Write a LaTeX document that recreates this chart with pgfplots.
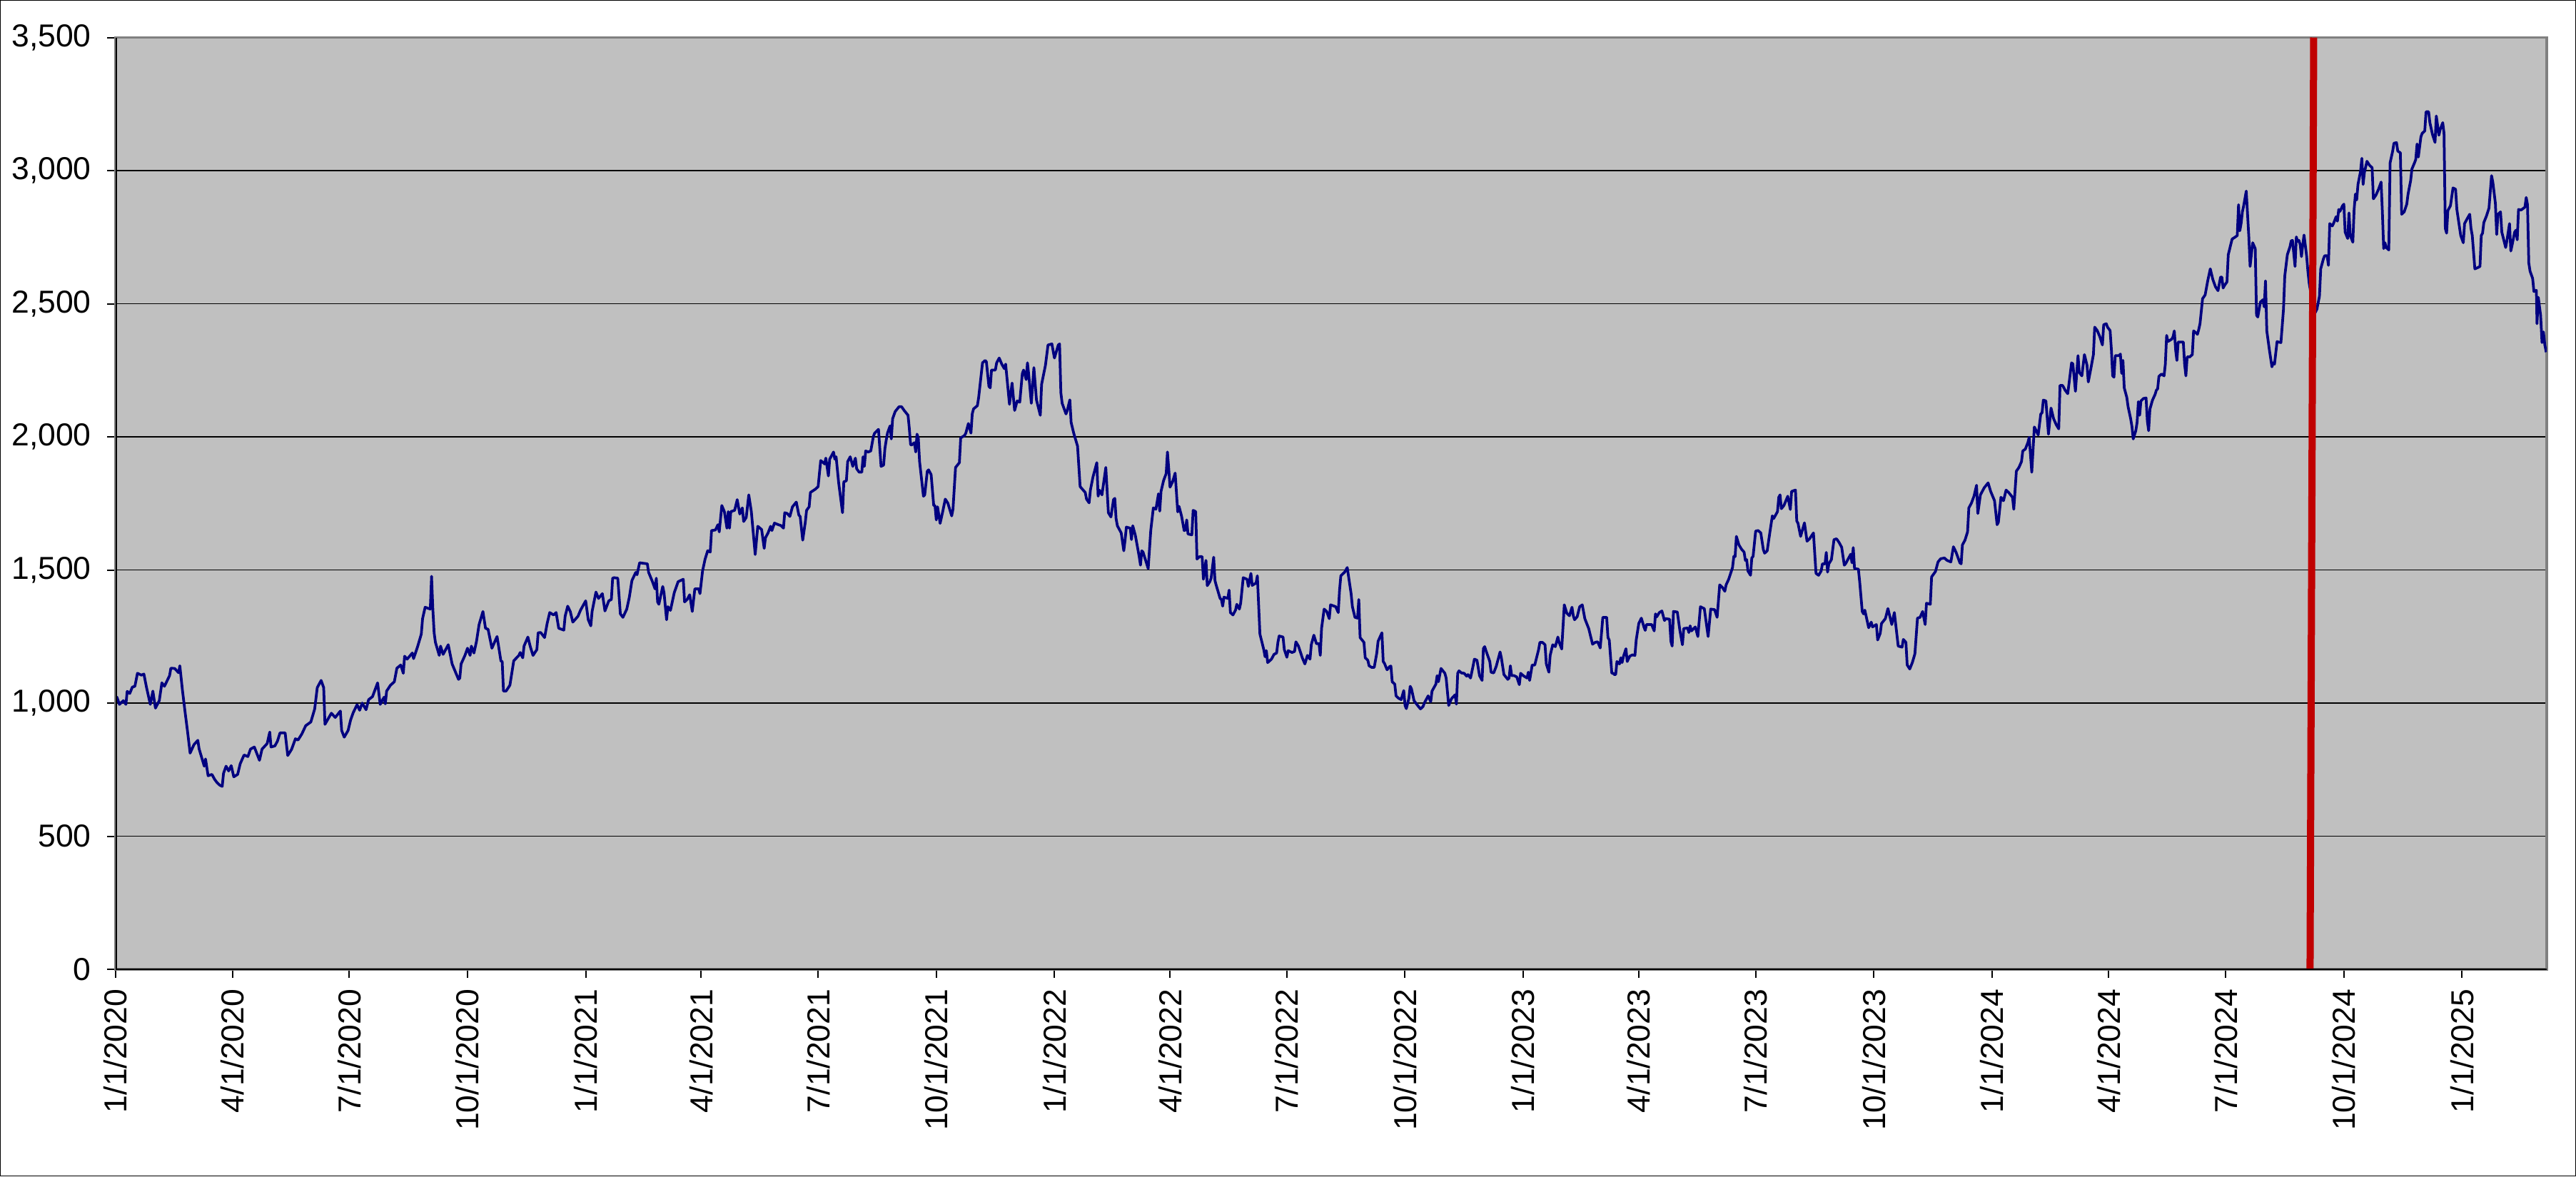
\documentclass[border=0pt]{standalone}
\usepackage{fontspec}
\setmainfont{Liberation Sans}
\usepackage{pgfplots}
\usepackage{pgfplotstable}
\pgfplotsset{compat=1.18}
\definecolor{navyline}{HTML}{000080}
\definecolor{redline}{HTML}{C00000}
\definecolor{plotbg}{HTML}{C0C0C0}
\definecolor{frameg}{HTML}{808080}
\pgfplotstableread{
d v
0 1020
1 1022
3 995
6 1009
8 995
9 1044
11 1036
13 1060
15 1063
17 1112
20 1105
22 1109
24 1060
27 995
29 1045
31 981
34 1009
36 1076
38 1063
42 1103
43 1131
46 1130
49 1114
50 1140
52 1049
54 969
56 893
58 812
61 844
64 860
65 828
69 763
70 790
72 727
75 732
77 714
79 701
81 692
83 687
84 736
86 763
88 745
90 765
92 723
95 732
97 772
100 805
103 799
105 827
108 835
112 785
114 827
118 848
120 891
121 835
124 839
126 857
128 888
132 888
134 803
137 826
140 866
142 861
145 884
148 915
152 929
155 978
157 1058
160 1085
162 1058
163 920
165 937
168 962
171 946
175 970
176 897
178 872
181 897
183 937
185 964
188 994
190 973
192 1000
195 975
197 1013
200 1024
204 1076
206 995
209 1022
210 997
211 1045
214 1067
217 1080
219 1131
222 1143
224 1112
225 1176
227 1165
231 1188
232 1167
235 1210
238 1259
239 1317
241 1360
245 1353
246 1476
247 1353
248 1264
249 1228
252 1179
253 1214
255 1183
259 1219
262 1147
265 1112
267 1089
268 1094
269 1147
272 1179
274 1206
276 1179
277 1214
279 1188
281 1232
283 1295
286 1344
288 1281
290 1277
293 1206
297 1250
300 1158
301 1156
302 1045
304 1045
307 1067
310 1159
314 1179
315 1190
317 1170
318 1214
321 1248
323 1210
325 1179
328 1201
329 1264
331 1265
334 1246
336 1299
338 1340
341 1331
343 1340
345 1281
349 1274
350 1326
352 1364
354 1344
356 1304
360 1326
362 1349
366 1384
368 1313
370 1290
371 1344
374 1417
376 1393
379 1411
381 1346
384 1384
386 1389
387 1469
388 1471
391 1469
393 1335
395 1322
398 1353
400 1398
402 1460
405 1491
406 1482
408 1527
414 1523
415 1491
418 1456
420 1429
421 1469
422 1380
423 1371
426 1438
427 1415
429 1313
430 1362
432 1348
435 1415
438 1456
442 1465
443 1380
445 1389
447 1407
449 1344
451 1429
454 1429
455 1411
457 1496
459 1541
461 1572
463 1567
464 1648
467 1650
469 1670
470 1643
472 1742
474 1719
476 1657
477 1719
478 1657
479 1719
482 1724
484 1764
486 1710
487 1724
488 1733
489 1682
491 1697
493 1782
495 1719
498 1558
500 1664
503 1652
505 1581
506 1621
508 1639
510 1664
511 1648
513 1676
516 1670
518 1667
520 1657
521 1715
523 1712
525 1701
527 1737
530 1755
532 1706
533 1701
535 1612
537 1679
538 1724
540 1737
541 1791
545 1804
547 1813
549 1911
551 1903
552 1898
553 1920
555 1853
556 1916
559 1943
560 1916
561 1925
563 1827
566 1715
567 1831
569 1835
570 1907
572 1925
574 1889
576 1920
577 1880
579 1867
581 1867
582 1925
583 1889
584 1947
586 1943
588 1947
590 2001
591 2014
594 2028
596 1889
598 1894
599 1956
600 1987
601 2014
603 2041
604 1992
605 2068
607 2095
610 2113
612 2113
614 2099
617 2081
618 2032
619 1970
620 1970
622 1978
623 1943
624 2010
625 1996
626 1907
629 1777
630 1782
632 1871
633 1876
635 1858
637 1742
638 1742
639 1688
640 1737
642 1675
644 1719
646 1766
648 1751
651 1703
652 1728
654 1885
657 1903
658 1996
661 2005
662 2014
664 2050
666 2014
667 2086
668 2105
671 2117
672 2148
675 2278
677 2287
678 2282
680 2189
681 2184
682 2251
685 2251
686 2278
688 2296
690 2273
692 2256
693 2273
696 2122
698 2202
700 2099
702 2135
704 2130
706 2238
707 2251
709 2215
710 2278
711 2233
713 2126
715 2260
717 2139
720 2081
721 2197
724 2269
726 2345
729 2349
731 2296
734 2345
735 2349
736 2166
737 2126
740 2086
741 2099
743 2139
744 2054
746 2014
749 1965
751 1813
755 1791
756 1766
758 1752
759 1800
761 1849
764 1903
765 1777
766 1800
768 1782
771 1885
773 1715
775 1699
777 1764
778 1769
779 1693
780 1666
783 1639
785 1572
786 1612
787 1661
790 1657
791 1614
792 1666
794 1630
797 1550
798 1518
799 1572
800 1567
802 1536
804 1505
806 1648
808 1733
810 1728
812 1786
813 1721
814 1795
816 1836
818 1862
819 1943
820 1880
821 1811
823 1831
825 1864
827 1718
828 1739
830 1702
832 1648
833 1650
834 1688
835 1635
838 1632
839 1724
841 1719
842 1541
844 1550
846 1550
847 1465
849 1536
850 1441
852 1456
853 1469
855 1548
856 1460
857 1442
860 1393
861 1389
862 1364
863 1398
866 1393
867 1424
868 1340
870 1331
872 1349
873 1371
875 1353
876 1375
878 1471
881 1465
882 1438
884 1487
885 1442
888 1451
889 1478
891 1259
894 1201
895 1174
896 1197
897 1152
900 1165
902 1183
904 1188
905 1228
906 1252
909 1248
910 1201
912 1172
913 1197
916 1190
918 1194
919 1230
921 1214
924 1170
926 1147
928 1179
930 1165
931 1219
933 1255
935 1223
937 1223
938 1179
939 1281
941 1353
943 1344
945 1317
946 1369
950 1362
952 1340
953 1424
954 1478
957 1492
959 1509
960 1476
962 1411
963 1362
965 1322
967 1319
968 1389
969 1246
972 1228
973 1170
975 1161
976 1140
978 1134
980 1134
982 1188
983 1232
986 1264
987 1156
988 1149
990 1125
992 1137
993 1139
994 1080
996 1071
997 1027
999 1018
1001 1013
1003 1047
1004 991
1005 979
1007 1018
1008 1063
1009 1054
1011 1009
1013 996
1016 978
1018 987
1019 1000
1021 1018
1022 1027
1024 1005
1025 1045
1028 1071
1029 1103
1030 1080
1032 1130
1035 1112
1036 1094
1038 991
1040 1015
1041 1021
1043 1031
1044 996
1045 1112
1046 1121
1048 1113
1050 1112
1052 1101
1053 1107
1055 1094
1057 1140
1058 1165
1060 1161
1062 1103
1064 1085
1065 1205
1066 1212
1067 1197
1070 1156
1071 1116
1073 1113
1075 1138
1077 1174
1078 1192
1079 1170
1081 1107
1084 1089
1085 1094
1086 1140
1087 1103
1089 1103
1091 1098
1093 1069
1094 1112
1096 1103
1099 1094
1100 1116
1101 1085
1103 1143
1105 1143
1108 1201
1109 1228
1111 1228
1113 1219
1114 1147
1116 1116
1117 1179
1119 1219
1121 1212
1123 1248
1124 1228
1126 1203
1128 1369
1130 1337
1132 1328
1134 1360
1135 1328
1136 1313
1138 1324
1140 1362
1142 1369
1144 1317
1147 1280
1149 1241
1150 1221
1152 1228
1154 1230
1156 1207
1158 1322
1161 1322
1162 1246
1163 1237
1165 1112
1166 1112
1167 1107
1168 1107
1169 1156
1171 1147
1172 1170
1173 1152
1174 1174
1176 1204
1177 1156
1179 1176
1181 1181
1183 1179
1184 1237
1186 1299
1188 1319
1190 1286
1191 1273
1192 1295
1196 1295
1198 1271
1199 1335
1200 1324
1202 1340
1204 1346
1206 1310
1207 1317
1210 1315
1211 1232
1212 1214
1213 1344
1216 1342
1218 1273
1220 1219
1221 1280
1224 1282
1225 1265
1226 1290
1227 1271
1230 1286
1232 1250
1234 1362
1236 1357
1237 1355
1240 1250
1242 1353
1245 1351
1247 1322
1249 1444
1251 1435
1253 1420
1254 1444
1256 1465
1259 1509
1260 1551
1261 1550
1262 1626
1264 1594
1266 1578
1268 1567
1269 1536
1270 1539
1271 1496
1273 1480
1274 1545
1275 1551
1277 1646
1279 1648
1281 1639
1283 1576
1284 1563
1286 1572
1288 1639
1290 1703
1291 1693
1294 1719
1295 1773
1296 1782
1297 1730
1299 1742
1302 1777
1304 1727
1305 1795
1308 1800
1309 1684
1310 1675
1312 1626
1315 1677
1317 1608
1319 1617
1322 1639
1324 1487
1326 1480
1328 1496
1329 1523
1331 1523
1332 1566
1333 1492
1334 1523
1336 1539
1338 1614
1340 1617
1342 1603
1344 1585
1346 1518
1347 1523
1349 1541
1351 1559
1352 1527
1353 1584
1354 1505
1357 1503
1358 1456
1360 1344
1361 1335
1362 1349
1365 1283
1367 1304
1368 1286
1371 1295
1372 1237
1374 1262
1375 1299
1378 1317
1380 1355
1381 1335
1383 1295
1385 1340
1388 1214
1391 1210
1392 1239
1394 1228
1395 1143
1397 1128
1399 1152
1401 1185
1403 1319
1405 1322
1407 1344
1409 1295
1410 1375
1413 1371
1414 1474
1417 1494
1419 1530
1421 1542
1424 1545
1426 1536
1429 1530
1431 1587
1433 1567
1436 1527
1437 1523
1438 1594
1440 1612
1442 1643
1443 1733
1445 1751
1447 1777
1449 1818
1450 1712
1452 1782
1455 1809
1458 1827
1460 1795
1463 1760
1465 1670
1466 1679
1468 1773
1470 1760
1472 1800
1474 1791
1477 1773
1478 1728
1480 1871
1482 1885
1484 1907
1485 1947
1487 1954
1489 1979
1490 1998
1492 1867
1494 2037
1495 2028
1497 2007
1499 2086
1500 2090
1501 2138
1503 2135
1505 2010
1507 2108
1509 2068
1511 2046
1513 2030
1514 2193
1516 2193
1518 2175
1520 2162
1523 2278
1524 2274
1526 2171
1528 2305
1529 2242
1531 2229
1533 2309
1535 2269
1536 2206
1538 2256
1540 2309
1541 2412
1543 2399
1545 2376
1547 2345
1548 2421
1550 2425
1551 2412
1553 2399
1554 2327
1555 2229
1556 2224
1557 2305
1560 2305
1561 2311
1562 2238
1563 2287
1564 2184
1566 2148
1567 2113
1569 2068
1570 2039
1571 1992
1573 2023
1574 2054
1575 2132
1576 2081
1577 2135
1579 2144
1581 2146
1582 2059
1583 2023
1584 2104
1586 2138
1588 2159
1589 2175
1590 2180
1591 2227
1593 2236
1595 2229
1596 2273
1597 2381
1598 2358
1601 2367
1602 2376
1603 2398
1604 2327
1605 2287
1606 2356
1609 2356
1610 2356
1611 2273
1612 2229
1613 2300
1615 2300
1617 2309
1618 2398
1620 2390
1621 2385
1622 2403
1623 2425
1625 2519
1627 2533
1629 2586
1631 2631
1633 2591
1635 2564
1637 2549
1639 2600
1640 2600
1641 2559
1642 2568
1644 2582
1645 2684
1648 2743
1650 2749
1652 2756
1653 2872
1654 2774
1655 2801
1656 2845
1657 2868
1659 2923
1661 2752
1662 2640
1664 2729
1666 2707
1667 2457
1668 2450
1670 2506
1672 2515
1673 2488
1674 2586
1675 2398
1677 2327
1679 2263
1680 2278
1681 2273
1683 2358
1684 2356
1686 2354
1688 2479
1689 2604
1691 2684
1693 2713
1694 2736
1695 2738
1697 2640
1698 2751
1699 2734
1700 2738
1701 2722
1702 2677
1703 2722
1704 2758
1706 2680
1707 2622
1708 2577
1710 2520
1712 2460
1714 2479
1716 2528
1717 2631
1719 2667
1720 2680
1722 2680
1723 2644
1724 2801
1726 2792
1727 2802
1729 2827
1730 2810
1731 2854
1732 2847
1734 2868
1735 2874
1736 2769
1738 2745
1739 2841
1740 2756
1742 2731
1743 2854
1744 2912
1745 2890
1746 2948
1748 2997
1749 3046
1750 2948
1751 2993
1753 3035
1755 3020
1757 3011
1758 2894
1760 2908
1762 2930
1764 2957
1765 2845
1766 2707
1767 2729
1768 2711
1770 2702
1771 3029
1773 3073
1774 3103
1776 3105
1777 3073
1779 3067
1780 2836
1782 2845
1784 2874
1785 2912
1787 2962
1788 3006
1790 3029
1791 3042
1792 3100
1793 3051
1795 3127
1796 3140
1798 3149
1799 3221
1801 3221
1802 3180
1804 3136
1806 3106
1807 3205
1809 3133
1810 3154
1812 3180
1813 3140
1814 2783
1815 2765
1816 2850
1818 2868
1820 2935
1822 2930
1823 2854
1826 2756
1828 2729
1829 2801
1831 2819
1833 2836
1834 2783
1835 2756
1837 2631
1839 2635
1841 2640
1842 2756
1843 2765
1844 2805
1846 2829
1848 2859
1850 2981
1851 2957
1853 2877
1854 2760
1855 2836
1857 2845
1858 2769
1861 2711
1862 2738
1864 2801
1865 2698
1866 2720
1868 2769
1869 2776
1870 2740
1871 2854
1873 2852
1875 2859
1876 2863
1877 2899
1878 2872
1879 2653
1880 2622
1882 2595
1883 2546
1884.9 2550
1885.4 2425
1886.4 2524
1888.2 2457
1889.3 2354
1890.4 2394
1891.5 2345
1892.6 2318
}\mydata
\begin{document}
\fontsize{8.9}{10.7}\selectfont
\begin{tikzpicture}
\useasboundingbox (0,0) rectangle (721.8pt,329.6pt);
\draw[black, line width=0.3pt] (0.15pt,0.15pt) rectangle (721.65pt,329.45pt);
\begin{axis}[
  at={(32.4pt,58pt)}, anchor=south west,
  scale only axis, width=681.2pt, height=261.1pt,
  xmin=0, xmax=1893, ymin=0, ymax=3500,
  axis background/.style={fill=plotbg},
  axis line style={draw=frameg, line width=0.7pt},
  ymajorgrids, grid style={black, line width=0.25pt},
  ytick={0,500,1000,1500,2000,2500,3000,3500},
  xtick={0,91,182,274,366,456,547,639,731,821,912,1004,1096,1186,1277,1369,1461,1552,1643,1735,1827},
  xticklabels={1/1/2020,4/1/2020,7/1/2020,10/1/2020,1/1/2021,4/1/2021,7/1/2021,10/1/2021,1/1/2022,4/1/2022,7/1/2022,10/1/2022,1/1/2023,4/1/2023,7/1/2023,10/1/2023,1/1/2024,4/1/2024,7/1/2024,10/1/2024,1/1/2025},
  tick align=outside,
  major tick length=2.4pt,
  tick style={black, line width=0.4pt},
  xtick pos=bottom, ytick pos=left,
  minor tick num=0,
  /pgf/number format/.cd, 1000 sep={,}, assume math mode=true,
  /pgfplots/.cd,
  yticklabel style={font=\fontsize{8.9}{10.7}\selectfont, anchor=east, xshift=-1.3pt},
  xticklabel style={font=\fontsize{8.9}{10.7}\selectfont, rotate=90, anchor=east},
]
\addplot[navyline, line width=0.75pt, line join=round, mark=none] table[x=d, y=v] {\mydata};
\addplot[redline, line width=2pt, mark=none] coordinates {(1708.7,0) (1711.5,3500)};
\draw[black, line width=0.6pt] (rel axis cs:0,1) -- (rel axis cs:0,0) -- (rel axis cs:1,0);
\end{axis}
\end{tikzpicture}
\end{document}
